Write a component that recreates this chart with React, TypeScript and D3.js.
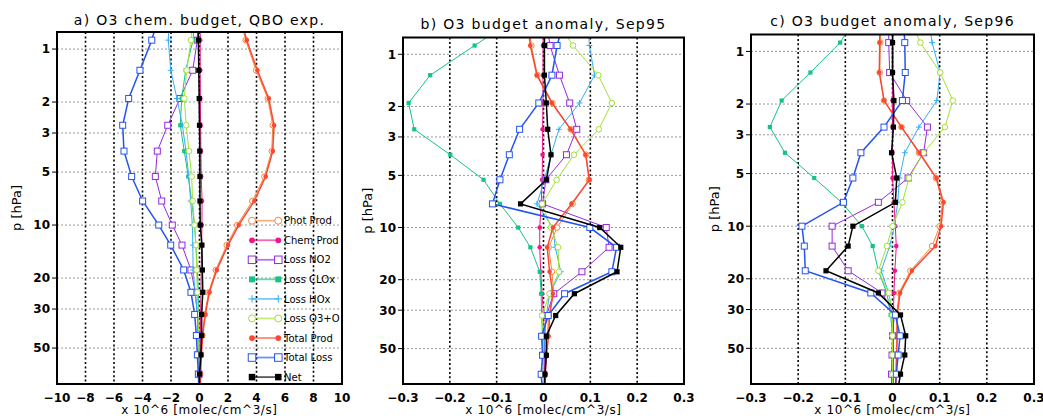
import React from 'react'
import * as d3 from 'd3'

const W = 1043
const H = 416

// model pressure levels (hPa); first and last lie outside the plotted range
const levels = [0.62, 0.89, 1.32, 1.91, 2.71, 3.8, 5.3, 7.3, 10, 13, 18, 24.1, 32.2, 42.4, 54.6, 70.3, 90]
const pTicks = [1, 2, 3, 5, 10, 20, 30, 50]

const seriesNames = ['Phot Prod', 'Chem Prod', 'Loss NO2', 'Loss CLOx', 'Loss HOx', 'Loss O3+O', 'Total Prod', 'Total Loss', 'Net']
const seriesColors = ['#f08a3c', '#f0158a', '#9428e0', '#14c485', '#34b0f4', '#a2e034', '#ff4632', '#2454f0', '#000000']
const seriesMarkers = ['circleOpen', 'circle', 'squareOpen', 'square', 'plus', 'circleOpen', 'circle', 'squareOpen', 'squareBig']

// a) QBO experiment, x 10^6 molec/cm3/s
const aPhotProd = [2.75, 3.24, 3.97, 4.79, 5.14, 5.07, 4.55, 3.71, 2.65, 1.91, 1.14, 0.64, 0.36, 0.2, 0.1, 0.05, 0.03]
const aChemProd = [0.05, 0.05, 0.05, 0.06, 0.08, 0.1, 0.12, 0.18, 0.17, 0.15, 0.12, 0.1, 0.08, 0.06, 0.05, 0.04, 0.03]
const aLossNO2 = [-0.05, -0.15, -0.48, -1.37, -2.23, -2.96, -3.1, -2.65, -1.91, -1.23, -0.6, -0.3, -0.15, -0.1, -0.05, -0.03, -0.02]
const aLossCLOx = [-0.35, -0.45, -0.97, -1.25, -1.35, -1.07, -0.79, -0.55, -0.35, -0.25, -0.15, -0.08, -0.04, -0.02, -0.01, -0.01, 0]
const aLossHOx = [-2.1, -2.19, -2.02, -1.58, -1.2, -0.95, -0.75, -0.62, -0.5, -0.47, -0.45, -0.3, -0.15, -0.08, -0.05, -0.03, -0.02]
const aLossO3O = [-0.45, -0.6, -0.9, -1.07, -0.93, -0.74, -0.55, -0.48, -0.35, -0.25, -0.2, -0.15, -0.1, -0.06, -0.04, -0.02, -0.01]
const aTotalProd = [2.8, 3.31, 4.06, 4.86, 5.23, 5.14, 4.64, 3.85, 2.75, 2.0, 1.21, 0.69, 0.41, 0.22, 0.13, 0.08, 0.05]
const aTotalLoss = [-2.8, -3.35, -4.18, -4.97, -5.39, -5.3, -4.76, -3.99, -2.86, -2.02, -1.11, -0.6, -0.34, -0.22, -0.15, -0.08, -0.04]
const aNet = [-0.08, -0.08, -0.05, -0.02, 0.0, 0.02, 0.03, 0.03, 0.05, 0.17, 0.2, 0.23, 0.15, 0.15, 0.1, 0.0, 0.0]

// b) anomaly Sep95
const bPhotProd = [-0.033, -0.026, -0.013, 0.019, 0.058, 0.091, 0.097, 0.062, 0.029, 0.011, 0.018, 0.022, 0.011, 0.008, 0.005, 0.003, 0.002]
const bChemProd = [-0.001, -0.001, -0.001, -0.001, -0.002, -0.002, -0.003, -0.005, -0.008, -0.008, -0.006, -0.003, 0.0, 0.002, 0.002, 0.002, 0.002]
const bLossNO2 = [0.005, 0.014, 0.034, 0.056, 0.071, 0.049, 0.005, -0.002, 0.134, 0.14, 0.082, 0.022, 0.006, 0.002, 0.001, 0.0, 0.0]
const bLossCLOx = [-0.06, -0.147, -0.242, -0.288, -0.276, -0.199, -0.128, -0.093, -0.054, -0.028, -0.008, -0.005, -0.004, -0.002, -0.001, 0, 0]
const bLossHOx = [0.095, 0.098, 0.109, 0.077, 0.033, 0.016, 0.002, -0.014, 0.02, 0.025, 0.037, 0.013, 0.006, 0.002, 0.001, 0, 0]
const bLossO3O = [0.025, 0.063, 0.117, 0.146, 0.118, 0.065, 0.028, -0.003, 0.016, 0.031, 0.033, 0.013, -0.003, 0, 0, 0, 0]
const bTotalProd = [-0.035, -0.028, -0.014, 0.018, 0.058, 0.09, 0.098, 0.06, 0.02, 0.008, 0.013, 0.02, 0.013, 0.011, 0.006, 0.004, 0.003]
const bTotalLoss = [0.045, 0.029, 0.018, -0.01, -0.051, -0.073, -0.093, -0.109, 0.099, 0.156, 0.146, 0.045, 0.01, -0.004, -0.002, -0.005, -0.002]
const bNet = [0.002, 0.002, 0.002, 0.006, 0.009, 0.016, 0.006, -0.049, 0.12, 0.165, 0.157, 0.066, 0.026, 0.006, 0.006, 0.003, 0.002]

// c) anomaly Sep96
const cPhotProd = [-0.025, -0.026, -0.027, -0.018, 0.019, 0.056, 0.092, 0.106, 0.1, 0.084, 0.038, 0.014, 0.009, 0.009, 0.008, 0.007, 0.006]
const cChemProd = [0.001, 0.001, 0.001, 0.0, 0.0, 0.0, 0.0, 0.003, 0.006, 0.008, 0.005, 0.003, 0.002, 0.002, 0.002, 0.002, 0.002]
const cLossNO2 = [-0.008, -0.008, -0.006, 0.03, 0.074, 0.066, 0.033, -0.03, -0.128, -0.128, -0.094, -0.022, 0.004, 0.0, -0.001, -0.002, -0.002]
const cLossCLOx = [-0.075, -0.111, -0.174, -0.235, -0.26, -0.228, -0.166, -0.108, -0.065, -0.042, -0.03, -0.012, -0.004, 0, 0, 0, 0]
const cLossHOx = [0.075, 0.084, 0.101, 0.094, 0.056, 0.026, 0.015, 0.011, 0.004, -0.006, -0.024, -0.008, 0.0, 0.0, 0.0, 0.0, 0.0]
const cLossO3O = [0.035, 0.059, 0.101, 0.128, 0.111, 0.066, 0.035, 0.021, 0.0, -0.012, -0.03, -0.008, 0.0, 0.0, 0.0, 0.0, 0.0]
const cTotalProd = [-0.027, -0.027, -0.028, -0.018, 0.019, 0.057, 0.093, 0.108, 0.103, 0.091, 0.041, 0.016, 0.01, 0.01, 0.009, 0.008, 0.007]
const cTotalLoss = [0.023, 0.026, 0.027, 0.021, -0.018, -0.067, -0.084, -0.104, -0.192, -0.187, -0.185, -0.046, 0.006, 0.016, 0.012, 0.008, 0.005]
const cNet = [0.0, 0.0, 0.0, 0.003, 0.002, -0.002, 0.009, 0.006, -0.084, -0.094, -0.141, -0.03, 0.017, 0.028, 0.026, 0.017, 0.01]

const ticksA = d3.range(-10, 10.1, 2)
const ticksB = [-0.3, -0.2, -0.1, 0, 0.1, 0.2, 0.3]

const panels = [
    { id: 'a', title: 'a) O3 chem. budget, QBO exp.', x0: 57, x1: 342, y0: 32, titleY: 25, ylabX: 16.5,
      domain: [-10, 10], ticks: ticksA, legend: true,
      series: [aPhotProd, aChemProd, aLossNO2, aLossCLOx, aLossHOx, aLossO3O, aTotalProd, aTotalLoss, aNet] },
    { id: 'b', title: 'b) O3 budget anomaly, Sep95', x0: 403, x1: 684, y0: 37.5, titleY: 28.5, ylabX: 367,
      domain: [-0.3, 0.3], ticks: ticksB, legend: false,
      series: [bPhotProd, bChemProd, bLossNO2, bLossCLOx, bLossHOx, bLossO3O, bTotalProd, bTotalLoss, bNet] },
    { id: 'c', title: 'c) O3 budget anomaly, Sep96', x0: 751, x1: 1034, y0: 34.5, titleY: 26, ylabX: 714.5,
      domain: [-0.3, 0.3], ticks: ticksB, legend: false,
      series: [cPhotProd, cChemProd, cLossNO2, cLossCLOx, cLossHOx, cLossO3O, cTotalProd, cTotalLoss, cNet] },
]

const Y1 = 384
const thin = "'DejaVu Sans', sans-serif"

const fmtTick = (v: number) => {
    const s = Math.abs(v) < 1e-9 ? '0' : Math.abs(v) >= 1 ? d3.format('d')(v) : d3.format('.1f')(v)
    return s.replace('-', '\u2212')
}

function Marker({ type, x, y, color, big }: { type: string, x: number, y: number, color: string, big?: boolean }) {
    const k = big ? 1.25 : 1
    switch (type) {
        case 'circleOpen':
            return <circle cx={x} cy={y} r={2.8 * k} fill="white" stroke={color} strokeWidth={1} />
        case 'circle':
            return <circle cx={x} cy={y} r={2.3 * k} fill={color} />
        case 'squareOpen': {
            const s = 6 * k
            return <rect x={x - s / 2} y={y - s / 2} width={s} height={s} fill="white" stroke={color} strokeWidth={1} />
        }
        case 'square': {
            const s = (big ? 6 : 4.2)
            return <rect x={x - s / 2} y={y - s / 2} width={s} height={s} fill={color} />
        }
        case 'squareBig': {
            const s = 5.2 * k
            return <rect x={x - s / 2} y={y - s / 2} width={s} height={s} fill={color} />
        }
        case 'plus': {
            const s = 3 * k
            return <path d={`M${x - s},${y}H${x + s}M${x},${y - s}V${y + s}`} stroke={color} strokeWidth={1} />
        }
        default:
            return null
    }
}

function Panel({ p }: { p: typeof panels[number] }) {
    const x = d3.scaleLinear().domain(p.domain).range([p.x0, p.x1])
    const y = d3.scaleLog().domain([0.8, 80]).range([p.y0, Y1])
    const clipId = `clip-${p.id}`
    const cx = (p.x0 + p.x1) / 2
    const cy = (p.y0 + Y1) / 2

    return (
        <g>
            <defs>
                <clipPath id={clipId}>
                    <rect x={p.x0} y={p.y0} width={p.x1 - p.x0} height={Y1 - p.y0} />
                </clipPath>
            </defs>
            {/* grid */}
            {pTicks.map(t =>
                <line key={`h${t}`} x1={p.x0} x2={p.x1} y1={y(t)} y2={y(t)} stroke="#9a9a9a" strokeWidth={1} strokeDasharray="2,2" />
            )}
            {p.ticks.slice(1, -1).map(t =>
                <line key={`v${t}`} x1={x(t)} x2={x(t)} y1={p.y0} y2={Y1} stroke="#000" strokeWidth={1.6} strokeDasharray="2,2.4" />
            )}
            {/* data */}
            <g clipPath={`url(#${clipId})`}>
                {p.series.map((vals, si) => {
                    const line = d3.line<number>().x(v => x(v)).y((_, i) => y(levels[i]))
                    const w = si >= 6 ? 1.5 : 1
                    return (
                        <g key={si}>
                            <path d={line(vals) || ''} fill="none" stroke={seriesColors[si]} strokeWidth={w} />
                            {vals.map((v, i) =>
                                <Marker key={i} type={seriesMarkers[si]} x={x(v)} y={y(levels[i])} color={seriesColors[si]} />
                            )}
                        </g>
                    )
                })}
            </g>
            {/* frame */}
            <rect x={p.x0} y={p.y0} width={p.x1 - p.x0} height={Y1 - p.y0} fill="none" stroke="#000" strokeWidth={2} />
            {/* y axis */}
            {pTicks.map(t =>
                <g key={`yt${t}`}>
                    <line x1={p.x0 - 5} x2={p.x0} y1={y(t)} y2={y(t)} stroke="#000" strokeWidth={1} />
                    <text x={p.x0 - 7} y={y(t)} dy="0.36em" textAnchor="end" fontFamily={thin} fontWeight="bold" fontSize={12}>{t}</text>
                </g>
            )}
            <text transform={`translate(${p.ylabX},${cy}) rotate(-90)`} textAnchor="middle" dy="0.35em" fontFamily={thin} fontSize={13}>p [hPa]</text>
            {/* x axis */}
            {p.ticks.map(t =>
                <text key={`xt${t}`} x={x(t)} y={401.5} textAnchor="middle" fontFamily={thin} fontWeight="bold" fontSize={12}>{fmtTick(t)}</text>
            )}
            <text x={cx} y={413.5} textAnchor="middle" fontFamily={thin} fontSize={12} letterSpacing={0.6}>x 10^6 [molec/cm^3/s]</text>
            {/* title */}
            <text x={cx} y={p.titleY} textAnchor="middle" fontFamily={thin} fontSize={14} letterSpacing={1.3}>{p.title}</text>
            {p.legend &&
                <g>
                    {seriesNames.map((name, si) => {
                        const ly = 220.7 + si * 19.55
                        return (
                            <g key={name}>
                                <line x1={252} x2={278.3} y1={ly} y2={ly} stroke={seriesColors[si]} strokeWidth={1.8} strokeOpacity={0.65} />
                                <Marker type={seriesMarkers[si]} x={252} y={ly} color={seriesColors[si]} big />
                                <Marker type={seriesMarkers[si]} x={278.3} y={ly} color={seriesColors[si]} big />
                                <text x={284} y={ly} dy="0.36em" fontFamily={thin} fontSize={10}>{name}</text>
                            </g>
                        )
                    })}
                </g>
            }
        </g>
    )
}

export default function App() {
    return (
        <svg width={W} height={H} style={{ position: 'absolute', left: 0, top: 0, background: 'white' }}>
            <rect width={W} height={H} fill="white" />
            {panels.map(p => <Panel key={p.id} p={p} />)}
        </svg>
    )
}
